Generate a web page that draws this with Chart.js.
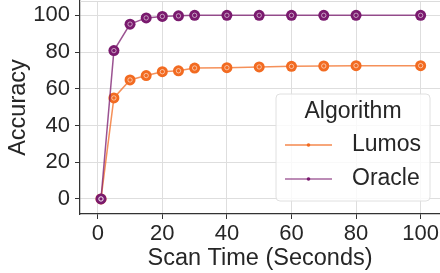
<!DOCTYPE html>
<html>
<head>
<meta charset="utf-8">
<script src="https://cdn.jsdelivr.net/npm/chart.js@4"></script>
<style>
html, body { margin: 0; padding: 0; background: #fff; }
#wrap { width: 440px; height: 273px; }
</style>
</head>
<body>
<div id="wrap"><canvas id="myChart" width="440" height="273"></canvas></div>
<script>
// scan times (seconds)
var scanTime = [1, 5, 10, 15, 20, 25, 30, 40, 50, 60, 70, 80, 100];
var lumosAcc = [0, 55, 64.8, 67.2, 69.3, 69.8, 71.3, 71.5, 71.9, 72.2, 72.4, 72.6, 72.6];
var oracleAcc = [0, 80.8, 95.2, 98.6, 99.4, 99.7, 100, 100, 100, 100, 100, 100, 100];
var xTicks = [0, 20, 40, 60, 80, 100];
var yTicks = [0, 20, 40, 60, 80, 100];
var seriesNames = ['Lumos', 'Oracle'];
var legendTitle = 'Algorithm';

var colorHex = ['#F26B21', '#7A1A6E'];
var lineColors = ['rgba(242,107,33,0.75)', 'rgba(122,26,110,0.75)'];
var fontFam = '"Liberation Sans", Arial, sans-serif';
var txt = '#262626';

function toPoints(xs, ys) {
	var pts = [];
	for (var i = 0; i < xs.length; i++) pts.push({x: xs[i], y: ys[i]});
	return pts;
}

function noPad(axis) {
	axis.paddingTop = 0;
	axis.paddingBottom = 0;
	axis.paddingLeft = 0;
	axis.paddingRight = 0;
}

// small ring in each marker + legend box
var extras = {
	id: 'extras',
	beforeDatasetsDraw: function(chart) {
		var c = chart.ctx, a = chart.chartArea;
		c.save();
		c.strokeStyle = '#dcdcdc';
		c.lineWidth = 1;
		c.beginPath();
		c.moveTo(a.left, a.top + 0.5);
		c.lineTo(a.right, a.top + 0.5);
		c.stroke();
		c.restore();
	},
	afterDatasetsDraw: function(chart) {
		var c = chart.ctx;
		c.save();
		chart.data.datasets.forEach(function(ds, i) {
			chart.getDatasetMeta(i).data.forEach(function(p) {
				c.beginPath();
				c.arc(p.x, p.y, 2.2, 0, Math.PI * 2);
				c.strokeStyle = 'rgba(255,255,255,0.55)';
				c.lineWidth = 1;
				c.stroke();
			});
		});

		// legend
		var bx = 276, by = 94, bw = 154, bh = 107, r = 4;
		c.beginPath();
		c.moveTo(bx + r, by);
		c.arcTo(bx + bw, by, bx + bw, by + bh, r);
		c.arcTo(bx + bw, by + bh, bx, by + bh, r);
		c.arcTo(bx, by + bh, bx, by, r);
		c.arcTo(bx, by, bx + bw, by, r);
		c.closePath();
		c.fillStyle = 'rgba(255,255,255,0.8)';
		c.fill();
		c.strokeStyle = '#e0e0e0';
		c.lineWidth = 1;
		c.stroke();

		c.fillStyle = txt;
		c.font = '23px ' + fontFam;
		c.textAlign = 'center';
		c.textBaseline = 'middle';
		c.fillText(legendTitle, 353, 112);

		var rows = [145, 179];
		chart.data.datasets.forEach(function(ds, i) {
			var yy = rows[i];
			c.beginPath();
			c.moveTo(285, yy);
			c.lineTo(332, yy);
			c.strokeStyle = i == 0 ? 'rgba(242,107,33,0.6)' : 'rgba(122,26,110,0.5)';
			c.lineWidth = 2;
			c.stroke();
			c.beginPath();
			c.arc(308.5, yy, 1.8, 0, Math.PI * 2);
			c.fillStyle = colorHex[i];
			c.fill();
			c.fillStyle = txt;
			c.textAlign = 'left';
			c.fillText(ds.label, 352, yy);
		});
		c.restore();
	}
};

var ctx = document.getElementById('myChart').getContext('2d');
var myChart = new Chart(ctx, {
	type: 'line',
	data: {
		datasets: [{
			label: seriesNames[0],
			data: toPoints(scanTime, lumosAcc),
			borderColor: lineColors[0],
			backgroundColor: colorHex[0],
			pointBackgroundColor: colorHex[0],
			pointBorderColor: colorHex[0],
			pointRadius: 5.5,
			pointBorderWidth: 0,
			borderWidth: 1.5,
			tension: 0,
			order: 1
		}, {
			label: seriesNames[1],
			data: toPoints(scanTime, oracleAcc),
			borderColor: lineColors[1],
			backgroundColor: colorHex[1],
			pointBackgroundColor: colorHex[1],
			pointBorderColor: colorHex[1],
			pointRadius: 5.5,
			pointBorderWidth: 0,
			borderWidth: 1.5,
			tension: 0,
			order: 0
		}]
	},
	options: {
		responsive: false,
		animation: false,
		clip: false,
		layout: { autoPadding: false, padding: { top: 1, right: 0, left: 0, bottom: 0 } },
		plugins: { legend: { display: false }, tooltip: { enabled: false } },
		scales: {
			x: {
				type: 'linear',
				min: -5.5,
				max: 106,
				afterBuildTicks: function(axis) { axis.ticks = xTicks.map(function(v) { return {value: v}; }); },
				afterFit: function(axis) { axis.height = 59; noPad(axis); },
				grid: { color: '#dedede', lineWidth: 1, tickLength: 5, tickColor: '#333' },
				border: { display: true, color: '#333', width: 1.25 },
				ticks: { color: txt, font: { family: fontFam, size: 22 }, padding: 2, maxRotation: 0 },
				title: { display: true, text: 'Scan Time (Seconds)', color: txt, font: { family: fontFam, size: 23.5 }, padding: { top: 0, bottom: 0 } }
			},
			y: {
				min: -8.2,
				max: 107.8,
				afterBuildTicks: function(axis) { axis.ticks = yTicks.map(function(v) { return {value: v}; }); },
				afterFit: function(axis) { axis.width = 80; noPad(axis); },
				grid: { color: '#dedede', lineWidth: 1, tickLength: 5, tickColor: '#333' },
				border: { display: true, color: '#333', width: 1.25 },
				ticks: { color: txt, font: { family: fontFam, size: 22 }, padding: 5 },
				title: { display: true, text: 'Accuracy', color: txt, font: { family: fontFam, size: 23.5 }, padding: { top: 4, bottom: 0 } }
			}
		}
	},
	plugins: [extras]
});
</script>
</body>
</html>
